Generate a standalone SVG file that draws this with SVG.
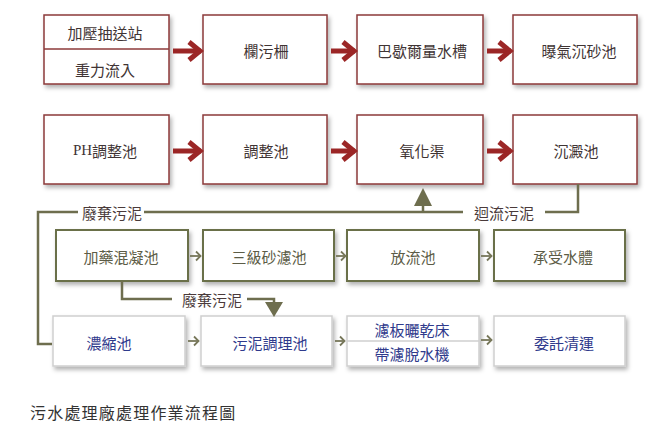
<svg xmlns="http://www.w3.org/2000/svg" width="652" height="425" viewBox="0 0 652 425">
<defs>
<filter id="sh" x="-10%" y="-10%" width="130%" height="140%">
<feDropShadow dx="2" dy="3" stdDeviation="2" flood-color="#000" flood-opacity="0.3"/>
</filter>
<marker id="bigArrow" markerUnits="userSpaceOnUse" markerWidth="20" markerHeight="24" refX="16" refY="12" orient="auto">
<polyline points="4,3 15,12 4,21" fill="none" stroke="#9b2626" stroke-width="5" stroke-linejoin="miter"/>
</marker>
<marker id="smArrow" markerUnits="userSpaceOnUse" markerWidth="10" markerHeight="12" refX="8" refY="6" orient="auto">
<polyline points="3,1.5 7.5,6 3,10.5" fill="none" stroke="#77775a" stroke-width="1.8"/>
</marker>
</defs>
<style>
.t{font-family:"Noto Sans CJK TC","Noto Sans CJK SC",sans-serif;font-size:15px;text-anchor:middle;dominant-baseline:central}
.r rect{fill:#fff;stroke:#8c3a3a;stroke-width:1.5;filter:url(#sh)}
.r text{fill:#3f3434}
.g rect{fill:#fff;stroke:#6b7048;stroke-width:2;filter:url(#sh)}
.g text{fill:#5c5c46}
.b rect{fill:#fff;stroke:#cfcfcf;stroke-width:1.5;filter:url(#sh)}
.b text{fill:#2f3a8c}
.big{stroke:#9b2626;stroke-width:5;fill:none;marker-end:url(#bigArrow)}
.sm{stroke:#77775a;stroke-width:1.8;fill:none;marker-end:url(#smArrow)}
.sl{stroke:#6e6e4e;stroke-width:2.5;fill:none}
.lab{fill:#4a3a3a}
.serif{font-family:"Liberation Serif",serif}
</style>

<g id="n1" class="r"><rect x="44" y="15" width="125" height="69"/><line x1="44" y1="49" x2="169" y2="49" stroke="#8c3a3a" stroke-width="1.5"/><text class="t" x="105" y="32">加壓抽送站</text><text class="t" x="105" y="69">重力流入</text></g>
<g id="n2" class="r"><rect x="203" y="15" width="124" height="69"/><text class="t" x="266" y="50">欄污柵</text></g>
<g id="n3" class="r"><rect x="357" y="15" width="126" height="69"/><text class="t" x="422" y="50">巴歇爾量水槽</text></g>
<g id="n4" class="r"><rect x="513" y="15" width="124" height="69"/><text class="t" x="579" y="50">曝氣沉砂池</text></g>

<g id="n5" class="r"><rect x="44" y="115" width="125" height="69"/><text class="t" x="105" y="150"><tspan class="serif">PH</tspan>調整池</text></g>
<g id="n6" class="r"><rect x="203" y="115" width="124" height="69"/><text class="t" x="266" y="150">調整池</text></g>
<g id="n7" class="r"><rect x="357" y="115" width="126" height="69"/><text class="t" x="422" y="150">氧化渠</text></g>
<g id="n8" class="r"><rect x="513" y="115" width="124" height="69"/><text class="t" x="576" y="150">沉澱池</text></g>

<g id="n9" class="g"><rect x="56" y="230" width="132" height="51"/><text class="t" x="121" y="256">加藥混凝池</text></g>
<g id="n10" class="g"><rect x="203" y="230" width="131" height="51"/><text class="t" x="269" y="256">三級砂濾池</text></g>
<g id="n11" class="g"><rect x="347" y="230" width="132" height="51"/><text class="t" x="413" y="256">放流池</text></g>
<g id="n12" class="g"><rect x="494" y="230" width="131" height="51"/><text class="t" x="563" y="256">承受水體</text></g>

<g id="n13" class="b"><rect x="53" y="316" width="132" height="50"/><text class="t" x="109" y="342">濃縮池</text></g>
<g id="n14" class="b"><rect x="201" y="316" width="131" height="50"/><text class="t" x="270" y="342">污泥調理池</text></g>
<g id="n15" class="b"><rect x="347" y="316" width="132" height="50"/><line x1="347" y1="341" x2="479" y2="341" stroke="#cfcfcf" stroke-width="1.5"/><text class="t" x="412" y="329">濾板曬乾床</text><text class="t" x="412" y="353">帶濾脫水機</text></g>
<g id="n16" class="b"><rect x="494" y="316" width="131" height="50"/><text class="t" x="564" y="342">委託清運</text></g>

<g id="connectors">
<line class="big" x1="173" y1="51" x2="201" y2="51"/>
<line class="big" x1="331" y1="51" x2="355" y2="51"/>
<line class="big" x1="487" y1="51" x2="511" y2="51"/>
<line class="big" x1="173" y1="151" x2="201" y2="151"/>
<line class="big" x1="331" y1="151" x2="355" y2="151"/>
<line class="big" x1="487" y1="151" x2="511" y2="151"/>

<line class="sm" x1="190" y1="256" x2="201" y2="256"/>
<line class="sm" x1="336" y1="256" x2="346" y2="256"/>
<line class="sm" x1="481" y1="256" x2="492" y2="256"/>
<line class="sm" x1="188" y1="341" x2="199" y2="341"/>
<line class="sm" x1="335" y1="341" x2="345" y2="341"/>
<line class="sm" x1="481" y1="340" x2="492" y2="340"/>

<path class="sl" d="M52 344 H38 V212 H78"/>
<path class="sl" d="M144 212 H463"/>
<path class="sl" d="M545 212 H578 V184"/>
<line class="sl" x1="423" y1="212" x2="423" y2="200"/>
<polygon points="423,188 414,206 432,206" fill="#6e6e4e"/>

<path class="sl" d="M122 281 V299 H172"/>
<path class="sl" d="M247 299 H274 V306"/>
<polygon points="274,317 265,302 283,302" fill="#6e6e4e"/>

<text class="t lab" x="112" y="212">廢棄污泥</text>
<text class="t lab" x="504" y="212">迴流污泥</text>
<text class="t lab" x="212" y="299">廢棄污泥</text>
</g>

<text x="30" y="412" font-family="'Noto Sans CJK TC','Noto Sans CJK SC',sans-serif" font-size="16" letter-spacing="1.2" fill="#333" dominant-baseline="central">污水處理廠處理作業流程圖</text>
</svg>
